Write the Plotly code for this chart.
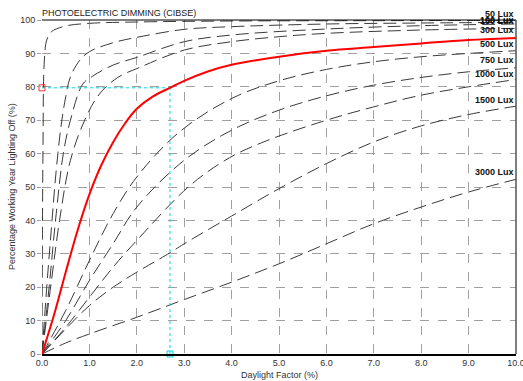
import plotly.graph_objects as go

# ---- data ----
lux_50_x = [0, 0.02, 0.05, 0.1, 0.2, 0.5, 1, 2, 4, 7, 10]
lux_50_y = [0, 60, 88, 94, 96.5, 98.2, 99, 99.4, 99.7, 99.8, 99.9]

lux_100_x = [0, 0.1, 0.2, 0.3, 0.4, 0.5, 0.6, 0.8, 1, 1.5, 2, 3, 4, 6, 8, 10]
lux_100_y = [0, 20, 38, 55, 68, 77, 83, 88, 90.5, 93.2, 94.8, 97.2, 98, 98.8, 99.1, 99.3]

lux_150_x = [0, 0.15, 0.3, 0.45, 0.6, 0.86, 1.07, 1.5, 2, 3, 4, 6, 8, 10]
lux_150_y = [0, 20, 42, 60, 70, 80.8, 83.2, 86.5, 88.8, 93.5, 95.5, 97.3, 98.3, 98.8]

lux_300_x = [0, 0.2, 0.37, 0.6, 0.9, 1.21, 1.6, 2.06, 3, 4, 5, 6, 8, 10]
lux_300_y = [0, 22, 40, 58, 70, 77.8, 82.8, 85.8, 91, 93.5, 95, 96, 97, 97.5]

lux_500_x = [0, 0.25, 0.5, 0.75, 1, 1.25, 1.5, 1.75, 2, 2.35, 2.7, 3, 3.5, 4, 5, 6, 7, 8, 9, 10]
lux_500_y = [0, 11.5, 24.5, 37, 47.8, 56.5, 63.4, 69, 73.4, 77.2, 79.7, 81.8, 84.6, 86.6, 89, 90.8, 91.9, 93, 94, 94.6]

lux_750_x = [0, 0.5, 1, 1.5, 2, 2.9, 4, 5, 6, 7, 8, 9, 10]
lux_750_y = [0, 13, 28, 42, 53, 66.5, 76.5, 81.8, 85.2, 87.5, 89, 90, 90.8]

lux_1000_x = [0, 0.5, 1, 1.5, 2, 3, 4, 5, 6, 7, 8, 9, 10]
lux_1000_y = [0, 10, 22, 33, 44, 58, 67, 73, 77.3, 80.5, 82.8, 84.5, 85.7]

lux_extra_x = [0, 0.5, 1, 1.5, 2, 3.11, 3.96, 4.73, 6, 7, 8, 9, 10]
lux_extra_y = [0, 8, 17, 26, 34, 50.3, 58.8, 63.8, 70, 74, 77.5, 80, 82.2]

lux_1500_x = [0, 0.5, 1, 1.5, 2, 2.7, 3, 4, 5, 6, 7, 8, 9, 10]
lux_1500_y = [0, 7.5, 14.5, 20, 24.5, 30.3, 33, 41.3, 49.5, 57, 63.5, 68.3, 71.7, 74.2]

lux_3000_x = [0, 0.5, 1, 2, 3, 4, 5, 6, 7, 8, 9, 10]
lux_3000_y = [0, 3.3, 6, 11, 16.3, 21.5, 27, 33, 39, 44, 48.5, 52.3]

series_names = ["50 Lux", "100 Lux", "150 Lux", "300 Lux", "500 Lux",
                "750 Lux", "1000 Lux", "", "1500 Lux", "3000 Lux"]
series_x = [lux_50_x, lux_100_x, lux_150_x, lux_300_x, lux_500_x,
            lux_750_x, lux_1000_x, lux_extra_x, lux_1500_x, lux_3000_x]
series_y = [lux_50_y, lux_100_y, lux_150_y, lux_300_y, lux_500_y,
            lux_750_y, lux_1000_y, lux_extra_y, lux_1500_y, lux_3000_y]
# label anchor (data y) and small pixel nudge for the labels crowded at the top
label_y = [100, 100, 99.7, 96.9, 92.9, 88, 83.9, None, 75.9, 54.6]
label_nudge = [6, 0, 0, 0, 0, 0, 0, 0, 0, 0]

highlight = "500 Lux"
target_df = 2.7
target_pct = 79.7

x_ticks = [0, 1, 2, 3, 4, 5, 6, 7, 8, 9, 10]
y_ticks = [0, 10, 20, 30, 40, 50, 60, 70, 80, 90, 100]

FONT = "Liberation Sans, Arial, sans-serif"

fig = go.Figure()

for name, xs, ys in zip(series_names, series_x, series_y):
    if name == highlight:
        continue
    fig.add_trace(go.Scatter(
        x=xs, y=ys, mode="lines", name=name, line_shape="spline",
        line=dict(color="#3a3a3a", width=1, dash="13px,6px"),
        hoverinfo="skip"))

# cyan guide lines
fig.add_trace(go.Scatter(x=[0, target_df], y=[target_pct, target_pct], mode="lines",
                         line=dict(color="#00d8e0", width=1, dash="dot"), hoverinfo="skip"))
fig.add_trace(go.Scatter(x=[target_df, target_df], y=[0, target_pct], mode="lines",
                         line=dict(color="#00d8e0", width=1, dash="dot"), hoverinfo="skip"))

i = series_names.index(highlight)
fig.add_trace(go.Scatter(x=series_x[i], y=series_y[i], mode="lines", name=highlight,
                         line_shape="spline",
                         line=dict(color="#ff0000", width=2), hoverinfo="skip"))

fig.add_trace(go.Scatter(x=[0], y=[target_pct], mode="markers", cliponaxis=False,
                         marker=dict(symbol="square-open", size=6, color="#ff3030",
                                     line=dict(width=1)), hoverinfo="skip"))
fig.add_trace(go.Scatter(x=[target_df], y=[0], mode="markers", cliponaxis=False,
                         marker=dict(symbol="square-open", size=6, color="#00d0e0",
                                     line=dict(width=1)), hoverinfo="skip"))

for name, ly, dy in zip(series_names, label_y, label_nudge):
    if not name or ly is None:
        continue
    fig.add_annotation(x=10, y=ly, xref="x", yref="y", text="<b>%s</b>" % name,
                       showarrow=False, xanchor="right", yanchor="middle", yshift=dy,
                       font=dict(family=FONT, size=9, color="#111"))

fig.add_annotation(x=0, y=1, xref="paper", yref="paper", text="PHOTOELECTRIC DIMMING (CIBSE)",
                   showarrow=False, xanchor="left", yanchor="bottom", yshift=0, xshift=-2,
                   font=dict(family=FONT, size=9, color="#222"))

# axis titles as annotations for exact placement
fig.add_annotation(x=0.5, y=0, xref="paper", yref="paper", text="Daylight Factor (%)",
                   showarrow=False, xanchor="center", yanchor="middle", yshift=-21,
                   font=dict(family=FONT, size=9, color="#333"))
fig.add_annotation(x=0, y=0.5, xref="paper", yref="paper",
                   text="Percentage Working Year Lighting Off (%)", textangle=-90,
                   showarrow=False, xanchor="center", yanchor="middle", xshift=-30,
                   font=dict(family=FONT, size=9, color="#333"))

fig.update_layout(
    width=523, height=381,
    margin=dict(l=42, r=7, t=20, b=27, autoexpand=False),
    paper_bgcolor="white", plot_bgcolor="white",
    showlegend=False,
    font=dict(family=FONT, size=9, color="#333"),
    xaxis=dict(range=[0, 10], tickvals=x_ticks, tickformat=".1f", automargin=False,
               ticklabeloverflow="allow",
               showgrid=True, gridcolor="#a0a0a0", griddash="dash", gridwidth=1,
               zeroline=False, showline=True, linecolor="#000", linewidth=1.5,
               mirror=False, ticks="", ticklen=0),
    yaxis=dict(range=[0, 100], tickvals=y_ticks, automargin=False,
               ticklabeloverflow="allow",
               showgrid=True, gridcolor="#a0a0a0", griddash="dash", gridwidth=1,
               zeroline=False, showline=False,
               ticks="outside", ticklen=4, tickcolor="#a0a0a0"),
)

# frame: top border and right border
fig.add_shape(type="line", xref="paper", yref="paper", x0=0, x1=1, y0=1, y1=1,
              line=dict(color="#000", width=1))
fig.add_shape(type="line", xref="paper", yref="paper", x0=1, x1=1, y0=0, y1=1,
              line=dict(color="#555", width=1.5))

fig.write_html(
    "out.html",
    config={"displayModeBar": False, "staticPlot": True},
    post_script="document.body.style.margin='0';document.body.style.overflow='hidden';",
)
